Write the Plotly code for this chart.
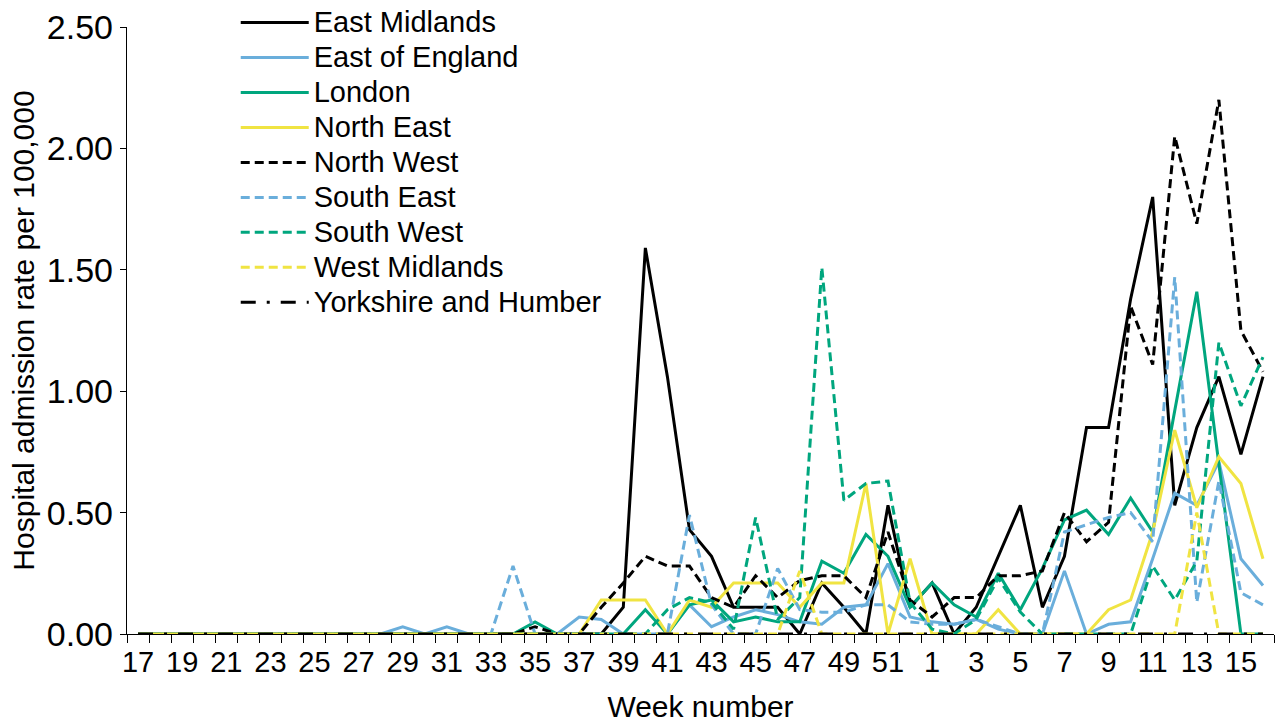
import plotly.graph_objects as go

# Week numbers (ISO weeks, spanning two years)
weeks = list(range(17, 53)) + list(range(1, 17))

def series(vals):
    return [vals.get(w, 0.0) for w in weeks]

east_midlands = series({39: 0.11, 40: 1.59, 41: 1.06, 42: 0.43, 43: 0.32, 44: 0.11, 45: 0.11, 46: 0.11,
                        47: 0.0, 48: 0.21, 49: 0.11, 50: 0.0, 51: 0.53, 52: 0.11, 1: 0.21, 2: 0.0, 3: 0.11,
                        4: 0.32, 5: 0.53, 6: 0.11, 7: 0.32, 8: 0.85, 9: 0.85, 10: 1.38, 11: 1.80, 12: 0.53,
                        13: 0.85, 14: 1.06, 15: 0.74, 16: 1.06})
east_of_england = series({29: 0.03, 31: 0.03, 37: 0.07, 38: 0.06, 42: 0.12, 43: 0.03, 44: 0.07, 45: 0.10,
                          46: 0.08, 47: 0.05, 48: 0.04, 49: 0.11, 50: 0.12, 51: 0.29, 52: 0.07, 1: 0.05,
                          2: 0.04, 3: 0.06, 4: 0.02, 7: 0.26, 9: 0.04, 10: 0.05, 11: 0.31, 12: 0.58,
                          13: 0.53, 14: 0.71, 15: 0.31, 16: 0.20})
london = series({35: 0.05, 40: 0.10, 42: 0.12, 43: 0.14, 44: 0.05, 45: 0.07, 46: 0.05, 47: 0.05, 48: 0.30,
                 49: 0.25, 50: 0.41, 51: 0.32, 52: 0.11, 1: 0.21, 2: 0.12, 3: 0.07, 4: 0.25, 5: 0.10,
                 6: 0.27, 7: 0.47, 8: 0.51, 9: 0.41, 10: 0.56, 11: 0.42, 12: 0.92, 13: 1.41, 14: 0.70})
north_east = series({38: 0.14, 39: 0.14, 40: 0.14, 42: 0.14, 43: 0.11, 44: 0.21, 45: 0.21, 46: 0.21,
                     47: 0.11, 48: 0.21, 49: 0.21, 50: 0.62, 52: 0.31, 4: 0.10, 9: 0.10, 10: 0.14,
                     11: 0.42, 12: 0.84, 13: 0.52, 14: 0.73, 15: 0.62, 16: 0.31})
north_west = series({35: 0.03, 38: 0.11, 39: 0.21, 40: 0.32, 41: 0.28, 42: 0.28, 43: 0.15, 44: 0.11,
                     45: 0.24, 46: 0.15, 47: 0.22, 48: 0.24, 49: 0.24, 50: 0.15, 51: 0.42, 52: 0.14,
                     1: 0.07, 2: 0.15, 3: 0.15, 4: 0.24, 5: 0.24, 6: 0.26, 7: 0.50, 8: 0.38, 9: 0.46,
                     10: 1.35, 11: 1.11, 12: 2.05, 13: 1.69, 14: 2.20, 15: 1.25, 16: 1.08})
south_east = series({34: 0.28, 42: 0.49, 43: 0.12, 46: 0.27, 47: 0.10, 48: 0.09, 49: 0.09, 50: 0.12,
                     51: 0.12, 52: 0.05, 1: 0.04, 2: 0.04, 3: 0.06, 4: 0.03, 7: 0.42, 8: 0.45, 9: 0.48,
                     10: 0.50, 11: 0.38, 12: 1.47, 13: 0.13, 14: 0.63, 15: 0.17, 16: 0.12})
south_west = series({41: 0.10, 42: 0.15, 43: 0.13, 44: 0.02, 45: 0.48, 46: 0.06, 47: 0.15, 48: 1.51,
                     49: 0.55, 50: 0.62, 51: 0.63, 52: 0.13, 1: 0.02, 3: 0.06, 4: 0.23, 5: 0.09,
                     11: 0.28, 12: 0.14, 13: 0.30, 14: 1.20, 15: 0.94, 16: 1.14})
west_midlands = series({47: 0.26, 13: 0.50})
yorkshire_humber = series({})

names = ["East Midlands", "East of England", "London", "North East", "North West",
         "South East", "South West", "West Midlands", "Yorkshire and Humber"]
values = [east_midlands, east_of_england, london, north_east, north_west,
          south_east, south_west, west_midlands, yorkshire_humber]

BLACK = "#000000"
BLUE = "#6AAEDB"
GREEN = "#00A67E"
YELLOW = "#F0E442"
DASH = "9px,5px"
colors = [BLACK, BLUE, GREEN, YELLOW, BLACK, BLUE, GREEN, YELLOW, BLACK]
dashes = ["solid"] * 4 + [DASH] * 4 + ["15px,11px,3px,11px"]

FONT = "Liberation Sans, Arial, sans-serif"
xpos = list(range(len(weeks)))

fig = go.Figure()
for name, vals, c, d in zip(names, values, colors, dashes):
    fig.add_trace(go.Scatter(x=xpos, y=vals, mode="lines",
                             name='<span style="font-size:29px">' + name + '</span>',
                             line=dict(color=c, width=3, dash=d)))

label_idx = list(range(0, len(weeks), 2))
fig.update_layout(
    width=1279, height=726,
    margin=dict(l=127, r=5, t=27, b=92, autoexpand=False),
    paper_bgcolor="white", plot_bgcolor="white",
    font=dict(family=FONT, size=29, color="black"),
    showlegend=True,
    legend=dict(x=0.0948, y=1.0445, xanchor="left", yanchor="top",
                bgcolor="rgba(0,0,0,0)", font=dict(size=24.6), itemwidth=68,
                tracegroupgap=0),
    xaxis=dict(range=[-0.5, len(weeks) - 0.5], tickmode="array",
               tickvals=label_idx, ticktext=[str(weeks[i]) for i in label_idx],
               ticks="", ticklabelstandoff=2,
               minor=dict(tickmode="array", tickvals=[i - 0.5 for i in range(len(weeks) + 1)],
                          ticks="outside", ticklen=8, tickcolor="black", tickwidth=1.3, showgrid=False),
               showline=True, linecolor="black", linewidth=1.3, showgrid=False, zeroline=False,
               automargin=False,
               title=dict(text="Week number", standoff=19, font=dict(size=30)), tickfont=dict(size=29)),
    yaxis=dict(range=[0, 2.5], tickmode="array", tickvals=[0, 0.5, 1.0, 1.5, 2.0, 2.5],
               tickformat=".2f", ticks="outside", ticklen=6, tickcolor="black", tickwidth=1.3,
               showline=True, linecolor="black", linewidth=1.3, showgrid=False, zeroline=False,
               automargin=False, ticklabelstandoff=0,
               title=dict(text="Hospital admission rate per 100,000", standoff=3, font=dict(size=30)),
               tickfont=dict(size=34)),
)
fig.write_html("out.html", config={"displayModeBar": False},
               post_script="document.body.style.margin='0px';document.body.style.overflow='hidden';")
